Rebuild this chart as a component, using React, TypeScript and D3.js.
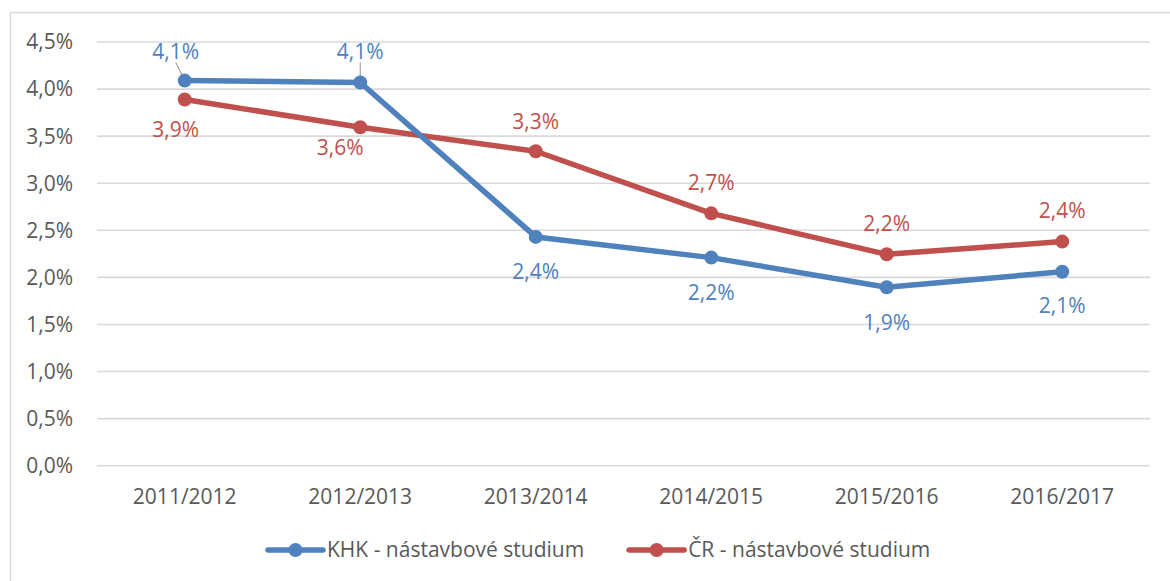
import React, { useEffect, useRef } from "react";
import * as d3 from "d3";

const categories = ["2011/2012", "2012/2013", "2013/2014", "2014/2015", "2015/2016", "2016/2017"];
const khkValues = [4.09, 4.07, 2.43, 2.21, 1.895, 2.06];
const crValues = [3.89, 3.595, 3.34, 2.68, 2.245, 2.38];
const yTicks = [0, 0.5, 1, 1.5, 2, 2.5, 3, 3.5, 4, 4.5];
const seriesNames = ["KHK - nástavbové studium", "ČR - nástavbové studium"];

// label placement relative to the data point: [dx, dy, leader]
const khkLabelPlace: [number, number, boolean][] = [[-9, -29, true], [0, -31, true], [0, 35, false], [0, 35, false], [0, 35, false], [0, 34, false]];
const crLabelPlace: [number, number, boolean][] = [[-9, 30, false], [-20, 20, false], [0, -30, false], [0, -31, false], [0, -31, false], [0, -31, false]];

const W = 1170;
const H = 581;
const FONT = "'Open Sans', sans-serif";
const TEXT = "#595959";
const BLUE = "#4F81BD";
const RED = "#C0504D";

const locale = d3.formatLocale({ decimal: ",", thousands: " ", grouping: [3], currency: ["", ""] });
const fmt1 = locale.format(".1f");

export default function App() {
  const ref = useRef<SVGSVGElement | null>(null);

  useEffect(() => {
    const svg = d3.select(ref.current);
    svg.selectAll("*").remove();

    const x = d3.scalePoint<string>().domain(categories).range([97, 1150]).padding(0.5);
    const y = d3.scaleLinear().domain([0, 4.5]).range([465.7, 42]);

    svg.append("rect").attr("width", W).attr("height", H).attr("fill", "#fff");
    svg.append("rect").attr("x", 10.5).attr("y", 12.5).attr("width", W + 20).attr("height", H + 20)
      .attr("fill", "none").attr("stroke", "#d9d9d9").attr("stroke-width", 1.5);

    // gridlines
    svg.append("g").selectAll("line").data(yTicks).join("line")
      .attr("x1", 97).attr("x2", 1150)
      .attr("y1", (d) => y(d)).attr("y2", (d) => y(d))
      .attr("stroke", "#d9d9d9").attr("stroke-width", 1.6);

    // y tick labels
    svg.append("g").selectAll("text").data(yTicks).join("text")
      .attr("x", 73).attr("y", (d) => y(d)).attr("dy", "0.35em")
      .attr("text-anchor", "end").attr("font-family", FONT).attr("font-size", 21).attr("fill", TEXT)
      .text((d) => fmt1(d) + "%");

    // x labels
    svg.append("g").selectAll("text").data(categories).join("text")
      .attr("x", (d) => x(d)!).attr("y", 496.5).attr("dy", "0.35em")
      .attr("text-anchor", "middle").attr("font-family", FONT).attr("font-size", 21).attr("fill", TEXT)
      .text((d) => d);

    const series = [
      { values: khkValues, color: BLUE, place: khkLabelPlace },
      { values: crValues, color: RED, place: crLabelPlace },
    ];

    const line = d3.line<number>().x((_, i) => x(categories[i])!).y((d) => y(d));

    // leader lines
    series.forEach((s) => {
      s.values.forEach((v, i) => {
        const [dx, dy, leader] = s.place[i];
        if (!leader) return;
        const px = x(categories[i])!;
        const py = y(v);
        const lx = px + dx;
        const ly = py + dy + 11;
        svg.append("line").attr("x1", lx).attr("y1", ly).attr("x2", px).attr("y2", py)
          .attr("stroke", "#a6a6a6").attr("stroke-width", 1.2);
      });
    });

    [series[1], series[0]].forEach((s) => {
      svg.append("path").datum(s.values).attr("d", line).attr("fill", "none")
        .attr("stroke", s.color).attr("stroke-width", 5.5).attr("stroke-linejoin", "round");
      svg.append("g").selectAll("circle").data(s.values).join("circle")
        .attr("cx", (_, i) => x(categories[i])!).attr("cy", (d) => y(d)).attr("r", 7).attr("fill", s.color);
    });

    // data labels
    series.forEach((s) => {
      svg.append("g").selectAll("text").data(s.values).join("text")
        .attr("x", (_, i) => x(categories[i])! + s.place[i][0])
        .attr("y", (d, i) => y(d) + s.place[i][1]).attr("dy", "0.35em")
        .attr("text-anchor", "middle").attr("font-family", FONT).attr("font-size", 21).attr("fill", s.color)
        .text((d) => fmt1(d) + "%");
    });

    // legend
    const legendY = 550;
    const lg = svg.append("g");
    let cx = 268;
    seriesNames.forEach((name, i) => {
      const color = i === 0 ? BLUE : RED;
      lg.append("line").attr("x1", cx).attr("x2", cx + 55).attr("y1", legendY).attr("y2", legendY)
        .attr("stroke", color).attr("stroke-width", 5.5).attr("stroke-linecap", "round");
      lg.append("circle").attr("cx", cx + 27.5).attr("cy", legendY).attr("r", 7).attr("fill", color);
      const t = lg.append("text").attr("x", cx + 59).attr("y", legendY).attr("dy", "0.35em")
        .attr("font-family", FONT).attr("font-size", 21).attr("fill", TEXT).text(name);
      const w = (t.node() as SVGTextElement).getComputedTextLength();
      cx = cx + 59 + w + 45;
    });
  }, []);

  return (
    <div style={{ position: "absolute", left: 0, top: 0, width: W, height: H }}>
      <svg ref={ref} width={W} height={H} style={{ display: "block" }} />
    </div>
  );
}
